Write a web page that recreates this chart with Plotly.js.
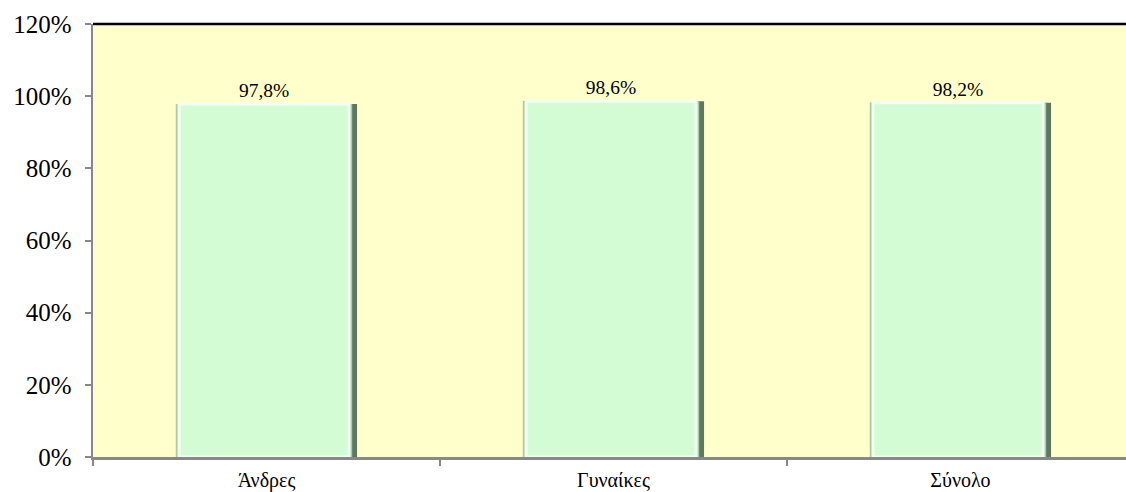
<!DOCTYPE html>
<html>
<head>
<meta charset="utf-8">
<script src="https://cdn.plot.ly/plotly-3.0.1.min.js"></script>
<style>html,body{margin:0;padding:0;background:#fff;}#chart{width:1126px;height:492px;}</style>
</head>
<body>
<div id="chart"></div>
<script>
const categories = ['Άνδρες', 'Γυναίκες', 'Σύνολο'];
const values = [97.8, 98.6, 98.2];
const yTicks = [0, 20, 40, 60, 80, 100, 120];
const labels = values.map(v => v.toFixed(1).replace('.', ',') + '%');

const font = "'Liberation Serif'";

const frame = {
  type: 'bar', x: categories, y: values, width: 0.522, offset: -0.261,
  marker: {color: '#5f775f', line: {width: 0}},
  hoverinfo: 'skip', showlegend: false
};
const leftEdge = {
  type: 'bar', x: categories, y: values, width: 0.508, offset: -0.261,
  marker: {color: '#a8cca8', line: {width: 0}},
  hoverinfo: 'skip', showlegend: false
};
const inner = {
  type: 'bar', x: categories, y: values, width: 0.49, offset: -0.252,
  marker: {color: '#d4fcd4', line: {color: '#f2fff3', width: 3}},
  text: labels, textposition: 'outside', cliponaxis: false,
  textfont: {family: font, size: 19.5, color: '#000'},
  hoverinfo: 'skip', showlegend: false
};

const layout = {
  width: 1126, height: 492,
  margin: {l: 93, r: 0, t: 24, b: 35},
  paper_bgcolor: '#ffffff', plot_bgcolor: '#ffffcc',
  barmode: 'overlay',
  font: {family: font},
  xaxis: {
    range: [-0.5, 2.477], showgrid: false, zeroline: false,
    showline: true, linecolor: '#888888', linewidth: 2.5,
    ticks: 'outside', tickson: 'boundaries', ticklen: 6, tickcolor: '#888888', tickwidth: 2,
    ticklabelstandoff: 3,
    tickfont: {family: font, size: 20, color: '#000'}, fixedrange: true
  },
  yaxis: {
    range: [0, 120], tickvals: yTicks, ticktext: yTicks.map(t => t + '%'),
    showgrid: false, zeroline: false,
    showline: true, linecolor: '#888888', linewidth: 2.5,
    ticks: 'outside', ticklen: 6, tickcolor: '#888888', tickwidth: 2,
    ticklabelstandoff: 8,
    tickfont: {family: font, size: 25, color: '#000'}, fixedrange: true
  },
  shapes: [{type: 'line', xref: 'paper', yref: 'paper', x0: 0, x1: 1, y0: 1, y1: 1,
            line: {color: '#000000', width: 2.5}}]
};

Plotly.newPlot('chart', [frame, leftEdge, inner], layout, {displayModeBar: false, staticPlot: true});
</script>
</body>
</html>
